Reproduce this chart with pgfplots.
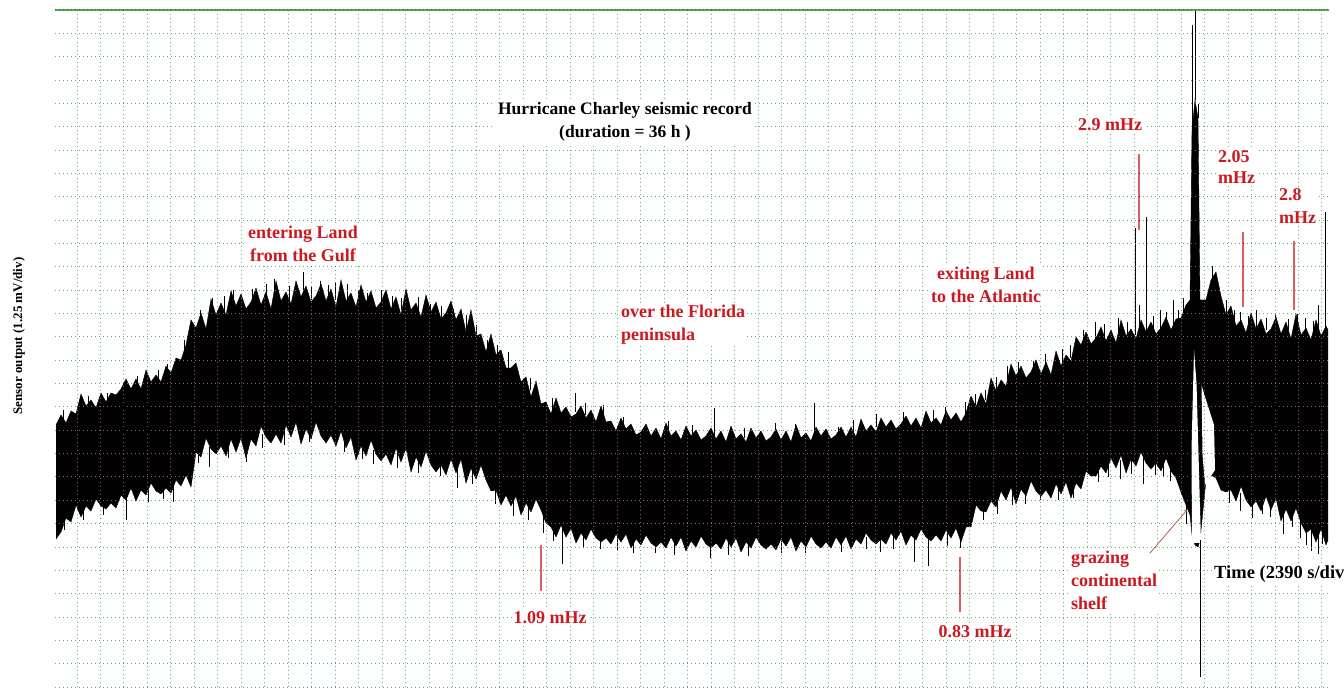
\documentclass[border=0pt]{standalone}
\usepackage{pgfplots}
\pgfplotsset{compat=1.18}
\usepgfplotslibrary{fillbetween}
\usepackage{pgfplotstable}
\usepackage{fontspec}
\setmainfont{Liberation Serif}
\definecolor{lblred}{rgb}{0.80,0.10,0.12}
\definecolor{ptrred}{rgb}{0.86,0.38,0.38}
\definecolor{arrowc}{rgb}{0.72,0.38,0.28}
\definecolor{topgreen}{rgb}{0.30,0.68,0.32}
\definecolor{gridsrc}{rgb}{0.62,0.30,0.62}
\pgfplotsset{
  layers/gridover/.define layer set={axis background,pre main,main,axis grid,axis ticks,axis lines,axis tick labels,axis descriptions,axis foreground}{},
}
\pgfplotstableread{
x u l
56 425 539
61 415 532
66 423 518
71 411 522
76 414 505
81 394 517
86 406 506
91 400 511
96 408 499
101 393 506
106 402 509
111 393 503
116 395 508
121 389 495
126 379 500
131 389 488
136 379 501
141 389 490
146 370 495
151 382 483
156 375 491
161 382 494
166 366 488
171 373 493
176 358 480
181 360 486
186 345 475
191 320 487
196 328 452
201 313 457
206 329 438
211 299 449
216 315 454
221 303 446
226 315 456
231 291 439
236 306 452
241 294 438
246 309 458
251 302 439
256 288 446
261 305 426
266 292 437
271 309 443
276 281 434
281 301 443
286 292 425
291 304 437
296 281 422
301 297 444
306 286 429
311 302 439
316 296 422
321 284 436
326 301 443
331 289 435
336 307 446
341 280 431
346 301 448
351 293 437
356 307 460
361 285 446
366 302 456
371 291 440
376 308 454
381 302 461
386 290 454
391 309 465
396 297 448
401 315 462
406 289 448
411 310 472
416 303 457
421 317 467
426 295 451
431 312 465
436 302 472
441 319 465
446 313 475
451 301 459
456 320 473
461 309 459
466 332 483
471 310 468
476 336 479
481 334 465
486 352 480
491 334 491
496 355 490
501 350 505
506 368 495
511 368 506
516 363 496
521 382 515
526 377 503
531 397 512
536 381 499
541 404 510
546 402 523
551 414 527
556 398 537
561 413 525
566 407 537
571 417 528
576 414 543
581 406 533
586 418 540
591 410 529
596 422 538
601 406 542
606 422 538
611 421 544
616 431 534
621 418 542
626 429 534
631 424 548
636 435 539
641 432 545
646 424 535
651 436 543
656 428 547
661 439 542
666 423 548
671 436 537
676 431 546
681 440 537
686 426 551
691 436 541
696 430 547
701 440 536
706 436 544
711 428 548
716 439 543
721 431 549
726 442 538
731 426 547
736 439 538
741 434 552
746 442 542
751 428 548
756 438 537
761 431 545
766 441 549
771 437 544
776 429 550
781 440 539
786 431 546
791 442 537
796 425 551
801 438 541
806 433 547
811 441 536
816 427 544
821 436 548
826 429 542
831 439 548
836 435 537
841 427 545
846 437 536
851 427 549
856 437 539
861 419 544
866 431 533
871 425 540
876 432 544
881 418 539
886 427 544
891 420 533
896 429 540
901 424 531
906 416 545
911 426 535
916 418 540
921 428 529
926 411 537
931 423 541
936 418 535
941 425 541
946 411 530
951 420 538
956 413 528
961 422 542
966 413 527
971 396 527
976 407 505
981 393 511
986 404 512
991 378 501
996 391 507
1001 380 491
1006 386 500
1011 364 487
1016 376 504
1021 366 489
1026 378 496
1031 372 481
1036 360 491
1041 374 496
1046 362 490
1051 375 498
1056 351 484
1061 366 494
1066 355 482
1071 361 498
1076 337 483
1081 345 489
1086 332 471
1091 344 476
1096 338 476
1101 327 466
1106 341 473
1111 330 458
1116 343 468
1121 320 455
1126 336 473
1131 329 459
1136 339 466
1141 320 452
1146 332 463
1151 322 469
1156 334 463
1161 328 471
1166 317 458
1171 330 471
1176 319 478
1181 318 492
1186 305 505
1190 300 515
1192 130 535
1195 100 545
1198 118 547
1200 300 540
1206 300 480
1211 280 475
1216 272 478
1221 296 490
1226 315 492
1231 306 490
1236 326 501
1241 320 486
1246 333 500
1251 313 507
1256 329 501
1261 319 511
1266 334 496
1271 329 510
1276 317 498
1281 334 521
1286 322 509
1291 339 521
1296 314 508
1301 335 523
1306 328 533
1311 340 529
1316 320 542
1321 336 529
1326 326 545
1328 330 540
}\sig
\begin{document}
\begin{tikzpicture}[x=1pt,y=1pt]
\begin{axis}[
  set layers=gridover,
  at={(55pt,0pt)}, anchor=south west,
  scale only axis, width=1274pt, height=678pt,
  xmin=55, xmax=1329, ymin=10, ymax=688, y dir=reverse,
  axis line style={draw=none},
  xtick={77,100.49,...,1323.1}, ytick={10,33.35,...,688},
  xticklabels={}, yticklabels={},
  major tick length=0pt, tick style={draw=none},
  grid=major,
  grid style={/pgfplots/on layer=axis grid, line width=1pt, dash pattern=on 1pt off 3pt, color=gridsrc, blend mode=difference},
]
\addplot[name path=U, draw=black, line width=0.4pt] table[x=x,y=u]{\sig};
\addplot[name path=L, draw=black, line width=0.4pt] table[x=x,y=l]{\sig};
\addplot[black] fill between[of=U and L];
% white gaps beside the large excursion
\addplot[fill=white, draw=none] coordinates {(1194,350)(1196.5,383)(1201,543)(1192,543)(1191.5,450)} -- cycle;
\addplot[fill=white, draw=none] coordinates {(1201.5,385)(1206,400)(1214,425)(1215,470)(1205,485)(1202.5,455)} -- cycle;
% main needle spikes
\addplot[black, line width=0.8pt, unbounded coords=jump] coordinates {
(124,398)(124,388)(124,nan)(158,383)(158,370)(158,nan)(200,325)(200,310)(200,nan)
(233,305)(233,290)(233,nan)(266,300)(266,284)(266,nan)(289,300)(289,286)(289,nan)
(303,300)(303,272)(303,nan)(320,300)(320,281)(320,nan)(335,300)(335,282)(335,nan)
(358,305)(358,290)(358,nan)(401,310)(401,298)(401,nan)(430,315)(430,304)(430,nan)
(453,320)(453,309)(453,nan)(487,350)(487,340)(487,nan)(575,412)(575,393)(575,nan)
(585,415)(585,403)(585,nan)(603,415)(603,405)(603,nan)(714,436)(714,408)(714,nan)
(775,436)(775,423)(775,nan)(814,436)(814,403)(814,nan)(838,436)(838,427)(838,nan)
(933,420)(933,410)(933,nan)(965,415)(965,402)(965,nan)(985,400)(985,390)(985,nan)
(1007,380)(1007,366)(1007,nan)(1033,372)(1033,361)(1033,nan)(1070,358)(1070,345)(1070,nan)
(1095,340)(1095,322)(1095,nan)(1135,335)(1135,228)(1135,nan)(1139,335)(1139,305)(1139,nan)
(1146,335)(1146,217)(1146,nan)(1160,330)(1160,310)(1160,nan)(1173,326)(1173,300)(1173,nan)
(1183,318)(1183,298)(1183,nan)(1192,130)(1192,25)(1192,nan)(1195,100)(1195,10)(1195,nan)
(1198,118)(1198,104)(1198,nan)(1212,280)(1212,266)(1212,nan)(1240,325)(1240,312)(1240,nan)
(1256,328)(1256,310)(1256,nan)(1297,330)(1297,314)(1297,nan)(1305,330)(1305,318)(1305,nan)
(1325,330)(1325,212)(1325,nan)
(126,495)(126,520)(126,nan)(173,484)(173,502)(173,nan)(209,447)(209,467)(209,nan)
(246,445)(246,462)(246,nan)(373,450)(373,464)(373,nan)(457,465)(457,488)(457,nan)
(495,485)(495,504)(495,nan)(543,505)(543,533)(543,nan)(562,528)(562,564)(562,nan)
(600,535)(600,549)(600,nan)(633,538)(633,553)(633,nan)(655,540)(655,553)(655,nan)
(710,541)(710,558)(710,nan)(805,541)(805,553)(805,nan)(893,535)(893,549)(893,nan)
(914,534)(914,562)(914,nan)(928,533)(928,566)(928,nan)(960,532)(960,548)(960,nan)
(997,495)(997,514)(997,nan)(1025,488)(1025,504)(1025,nan)(1058,487)(1058,500)(1058,nan)
(1120,460)(1120,479)(1120,nan)(1143,458)(1143,484)(1143,nan)(1170,462)(1170,481)(1170,nan)
(1186,505)(1186,524)(1186,nan)(1200,540)(1200,677)(1200,nan)(1240,493)(1240,511)(1240,nan)
(1252,496)(1252,518)(1252,nan)(1283,505)(1283,534)(1283,nan)(1311,526)(1311,551)(1311,nan)
(1318,530)(1318,554)(1318,nan)(1322,533)(1322,544)
};
% finer needles along both edges
\addplot[black, line width=0.6pt, unbounded coords=jump] coordinates {
(63,425)(63,410)(63,nan)(88,410)(88,396)(88,nan)(107,405)(107,393)(107,nan)
(137,390)(137,376)(137,nan)(167,380)(167,364)(167,nan)(184,355)(184,340)(184,nan)
(212,320)(212,298)(212,nan)(224,312)(224,296)(224,nan)(252,305)(252,289)(252,nan)
(274,300)(274,279)(274,nan)(296,300)(296,283)(296,nan)(311,300)(311,287)(311,nan)
(328,300)(328,285)(328,nan)(347,302)(347,284)(347,nan)(367,305)(367,293)(367,nan)
(381,305)(381,290)(381,nan)(392,308)(392,296)(392,nan)(418,312)(418,297)(418,nan)
(441,318)(441,306)(441,nan)(466,330)(466,315)(466,nan)(476,338)(476,325)(476,nan)
(497,356)(497,345)(497,nan)(508,368)(508,352)(508,nan)(530,390)(530,378)(530,nan)
(552,410)(552,398)(552,nan)(623,428)(623,417)(623,nan)(668,435)(668,421)(668,nan)
(692,436)(692,425)(692,nan)(744,438)(744,428)(744,nan)(795,437)(795,424)(795,nan)
(853,432)(853,420)(853,nan)(876,427)(876,414)(876,nan)(903,424)(903,412)(903,nan)
(945,420)(945,407)(945,nan)(975,405)(975,394)(975,nan)(996,390)(996,377)(996,nan)
(1018,376)(1018,362)(1018,nan)(1045,368)(1045,354)(1045,nan)(1062,364)(1062,349)(1062,nan)
(1083,345)(1083,330)(1083,nan)(1104,338)(1104,324)(1104,nan)(1118,336)(1118,318)(1118,nan)
(1127,334)(1127,322)(1127,nan)(1153,330)(1153,316)(1153,nan)(1166,328)(1166,312)(1166,nan)
(1178,325)(1178,310)(1178,nan)(1226,318)(1226,300)(1226,nan)(1234,322)(1234,310)(1234,nan)
(1248,326)(1248,316)(1248,nan)(1266,330)(1266,318)(1266,nan)(1275,330)(1275,313)(1275,nan)
(1288,330)(1288,319)(1288,nan)(1313,333)(1313,321)(1313,nan)(1318,334)(1318,305)(1318,nan)
(64,520)(64,530)(64,nan)(83,508)(83,520)(83,nan)(103,505)(103,515)(103,nan)
(148,490)(148,502)(148,nan)(163,487)(163,499)(163,nan)(198,450)(198,463)(198,nan)
(228,444)(228,458)(228,nan)(262,434)(262,448)(262,nan)(284,430)(284,445)(284,nan)
(309,430)(309,442)(309,nan)(344,438)(344,452)(344,nan)(362,446)(362,459)(362,nan)
(397,453)(397,468)(397,nan)(418,457)(418,473)(418,nan)(440,462)(440,476)(440,nan)
(472,468)(472,484)(472,nan)(513,500)(513,516)(513,nan)(528,504)(528,520)(528,nan)
(553,525)(553,541)(553,nan)(583,534)(583,548)(583,nan)(617,537)(617,550)(617,nan)
(674,540)(674,555)(674,nan)(728,541)(728,555)(728,nan)(748,542)(748,556)(748,nan)
(781,541)(781,553)(781,nan)(841,540)(841,552)(841,nan)(866,537)(866,549)(866,nan)
(880,537)(880,552)(880,nan)(947,533)(947,546)(947,nan)(983,507)(983,520)(983,nan)
(1012,492)(1012,505)(1012,nan)(1040,487)(1040,500)(1040,nan)(1073,484)(1073,498)(1073,nan)
(1098,467)(1098,482)(1098,nan)(1108,462)(1108,477)(1108,nan)(1131,459)(1131,474)(1131,nan)
(1155,460)(1155,475)(1155,nan)(1163,460)(1163,477)(1163,nan)(1229,490)(1229,503)(1229,nan)
(1262,499)(1262,514)(1262,nan)(1270,502)(1270,517)(1270,nan)(1292,512)(1292,527)(1292,nan)
(1300,518)(1300,538)(1300,nan)(1306,522)(1306,545)
};
% red pointer lines
\addplot[ptrred, line width=1.2pt, unbounded coords=jump] coordinates {
(541,545)(541,591)(541,nan)(960,557)(960,612)(960,nan)(1139,154)(1139,230)(1139,nan)
(1243,232)(1243,307)(1243,nan)(1294,241)(1294,310)};
% top border line
\addplot[topgreen, line width=1.6pt] coordinates {(55,10)(1329,10)};
\end{axis}
\begin{pgfonlayer}{axis background}
\fill[white] (55,0) rectangle (1329,678);
\end{pgfonlayer}
\begin{pgfonlayer}{axis foreground}
\tikzset{lbl/.style={fill=white, inner sep=2pt, text=lblred,
  font=\bfseries\fontsize{18}{23}\selectfont}}
\node[fill=white, inner sep=3pt, align=center, font=\bfseries\fontsize{17.5}{23}\selectfont]
  at (625,566.5) {Hurricane Charley seismic record\\(duration = 36 h )};
\node[lbl, align=center] at (303,444) {entering Land\\from the Gulf};
\node[lbl, align=left, anchor=west] at (619,363.5) {over the Florida\\peninsula};
\node[lbl, align=center] at (986,403.5) {exiting Land\\to the Atlantic};
\node[lbl] at (1110,563) {2.9 mHz};
\node[lbl, align=left, anchor=west, font=\bfseries\fontsize{18}{21}\selectfont] at (1216,520.5) {2.05\\mHz};
\node[lbl, align=left, anchor=west] at (1277,481.5) {2.8\\mHz};
\node[lbl] at (550,70) {1.09 mHz};
\node[lbl] at (975,56) {0.83 mHz};
\node[lbl, align=left, anchor=west] at (1069,108) {grazing\\continental\\shelf};
\node[fill=white, inner sep=2pt, anchor=west, font=\bfseries\fontsize{18.5}{21}\selectfont] at (1212,114) {Time (2390 s/div};
\node[rotate=90, font=\bfseries\fontsize{13}{15}\selectfont] at (19,352) {Sensor output (1.25 mV/div)};
\draw[->, arrowc, line width=0.8pt] (1150,135) -- (1187,178);
\end{pgfonlayer}
\pgfresetboundingbox
\path[use as bounding box] (0,0) rectangle (1344,688);
\end{tikzpicture}
\end{document}
